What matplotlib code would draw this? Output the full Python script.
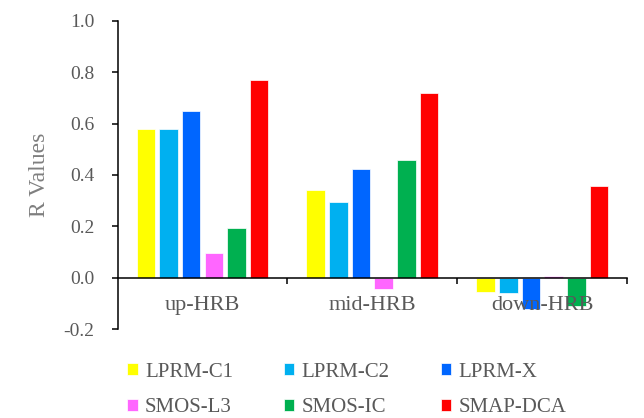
import matplotlib
matplotlib.use("Agg")
import matplotlib.pyplot as plt
import numpy as np

# R values per region for each soil moisture product
regions = ["up-HRB", "mid-HRB", "down-HRB"]
products = ["LPRM-C1", "LPRM-C2", "LPRM-X", "SMOS-L3", "SMOS-IC", "SMAP-DCA"]
lprm_c1 = [0.58, 0.34, -0.055]
lprm_c2 = [0.58, 0.295, -0.06]
lprm_x = [0.65, 0.425, -0.12]
smos_l3 = [0.095, -0.045, 0.008]
smos_ic = [0.195, 0.457, -0.11]
smap_dca = [0.77, 0.717, 0.358]
yticks = [-0.2, 0.0, 0.2, 0.4, 0.6, 0.8, 1.0]

series = [lprm_c1, lprm_c2, lprm_x, smos_l3, smos_ic, smap_dca]
colors = ["#FFFF00", "#00B0F0", "#0066FF", "#FF66FF", "#00B050", "#FF0000"]

plt.rcParams["font.family"] = ["Liberation Serif", "DejaVu Serif"]
txt = "#595959"

fig = plt.figure(figsize=(6.44, 4.18), dpi=100)
ax = fig.add_axes([0.1825, 0.2122, 0.7915, 0.7383])

x = np.arange(len(regions))
slot = 0.1335
width = 0.109
handles = []
for j, (vals, c, name) in enumerate(zip(series, colors, products)):
    b = ax.bar(x + (j - 2.5) * slot, vals, width, color=c,
               edgecolor="white", linewidth=0.5, label=name)
    handles.append(b)

ax.set_xlim(-0.5, 2.5)
ax.set_ylim(-0.2, 1.0)
ax.set_yticks(yticks)
ax.set_yticklabels(["%.1f" % v for v in yticks])

for s in ["top", "right"]:
    ax.spines[s].set_visible(False)
ax.spines["bottom"].set_position(("data", 0))
ax.spines["bottom"].set_linewidth(1.1)
ax.spines["left"].set_linewidth(1.1)

ax.set_xticks([0.5, 1.5, 2.5])
ax.set_xticklabels([])
ax.tick_params(axis="x", direction="out", length=4, width=1.1)
ax.tick_params(axis="y", direction="out", length=4.5, width=1.1,
               pad=12, labelsize=14, labelcolor=txt)

for i, r in enumerate(regions):
    ax.text(i, -0.106, r, ha="center", va="center", fontsize=16, color=txt)

ax.set_ylabel("R Values", fontsize=17, color="#7f7f7f", labelpad=10)

# legend is filled row by row, like the original
order = [0, 3, 1, 4, 2, 5]
leg = fig.legend(handles=[handles[k] for k in order], loc="upper left", ncol=3,
                 bbox_to_anchor=(0.1975, 0.132), frameon=False,
                 fontsize=15, handlelength=0.5, handleheight=0.5,
                 handletextpad=0.35, columnspacing=2.45, labelspacing=0.8,
                 borderaxespad=0, borderpad=0)
for t in leg.get_texts():
    t.set_color(txt)

fig.savefig("out.png", dpi=100)
